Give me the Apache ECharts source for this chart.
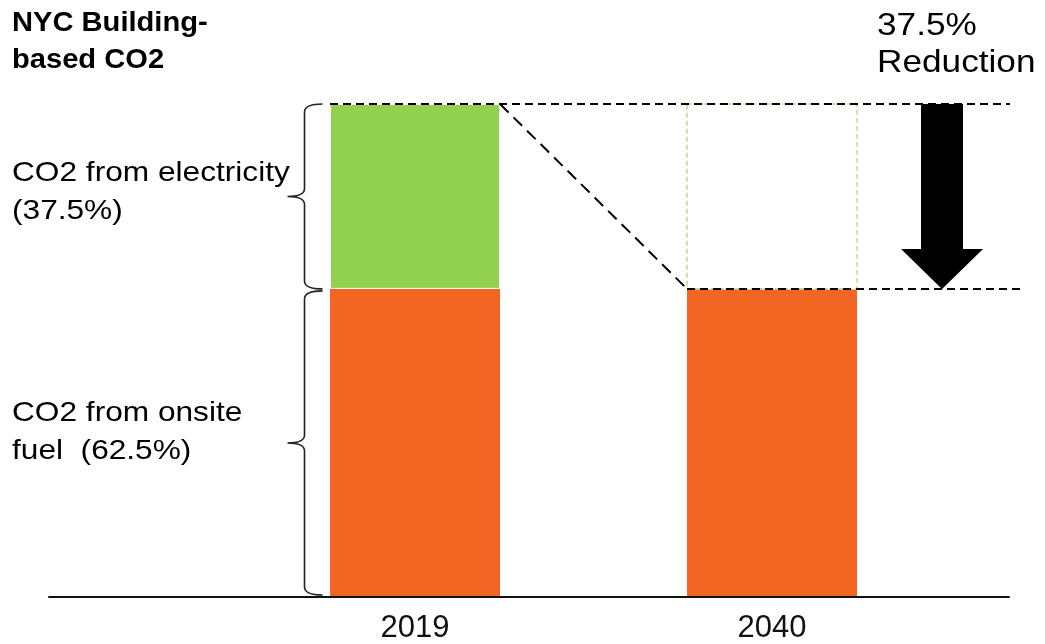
<!DOCTYPE html>
<html><head><meta charset="utf-8">
<script src="https://cdn.jsdelivr.net/npm/echarts@6/dist/echarts.min.js"></script>
<style>html,body{margin:0;padding:0;background:#fff}#c{width:1045px;height:644px}</style>
</head><body><div id="c"></div>
<script>
// ---- data ----
const years = ['2019', '2040'];
const onsiteFuel = [62.5, 62.5];     // CO2 from onsite fuel
const electricity = [37.5, 0];       // CO2 from electricity
const titleLines = ['NYC Building-', 'based CO2'];
const elecLabel = ['CO2 from electricity', '(37.5%)'];
const fuelLabel = ['CO2 from onsite', 'fuel  (62.5%)'];
const reductionLabel = ['37.5%', 'Reduction'];
const arrowYear = 2050;
const braceYear = 2012.5;
const lineEndYears = [2054, 2054.8];

const FONT = '"Liberation Sans", Arial, Helvetica, sans-serif';
const GREEN = '#92D050', ORANGE = '#F26522';
const BAR_W = 170;

const chart = echarts.init(document.getElementById('c'), null, {renderer: 'canvas'});

function bracePath(xs, yt, yb, tip, hook, r) {
  const ym = (yt + yb) / 2;
  return 'M' + (xs + hook) + ' ' + yt +
    ' Q' + xs + ' ' + yt + ' ' + xs + ' ' + (yt + r) +
    ' L' + xs + ' ' + (ym - r) +
    ' Q' + xs + ' ' + ym + ' ' + (xs - tip) + ' ' + ym +
    ' Q' + xs + ' ' + ym + ' ' + xs + ' ' + (ym + r) +
    ' L' + xs + ' ' + (yb - r) +
    ' Q' + xs + ' ' + yb + ' ' + (xs + hook) + ' ' + yb;
}

function renderItem(params, api) {
  const x0 = Number(years[0]), x1 = Number(years[1]);
  const top0 = onsiteFuel[0] + electricity[0];
  const top1 = onsiteFuel[1] + electricity[1];
  const c0 = api.coord([x0, top0]);
  const c1 = api.coord([x1, top1]);
  const cG = api.coord([x1, top0]);
  const yTop = c0[1], yMid = c1[1];
  const split0 = api.coord([x0, onsiteFuel[0]])[1];
  const base = api.coord([x0, 0])[1];
  const l0 = c0[0] - BAR_W / 2, r0 = c0[0] + BAR_W / 2;
  const l1 = c1[0] - BAR_W / 2;
  const endTop = api.coord([lineEndYears[0], top0])[0];
  const endMid = api.coord([lineEndYears[1], top1])[0];
  const a = api.coord([arrowYear, top0]);
  const aTip = api.coord([arrowYear, top1]);
  const bx = api.coord([braceYear, 0])[0];
  const dash = {stroke: '#000', lineWidth: 2, lineDash: [8, 5], fill: null};
  const children = [
    {type: 'rect', shape: {x: l1, y: cG[1], width: BAR_W, height: yMid - cG[1]},
     style: {fill: null, stroke: GREEN, lineWidth: 1, lineDash: [5, 3]}},
    {type: 'line', shape: {x1: l0, y1: yTop, x2: endTop, y2: yTop}, style: dash},
    {type: 'line', shape: {x1: l1, y1: yMid, x2: endMid, y2: yMid}, style: dash},
    {type: 'line', shape: {x1: r0, y1: yTop, x2: l1, y2: yMid},
     style: {stroke: '#000', lineWidth: 2, lineDash: [12, 7], fill: null}},
    {type: 'polygon', shape: {points: [
      [a[0] - 21, yTop], [a[0] + 21, yTop], [a[0] + 21, aTip[1] - 40],
      [a[0] + 41, aTip[1] - 40], [a[0], aTip[1]], [a[0] - 41, aTip[1] - 40],
      [a[0] - 21, aTip[1] - 40]]}, style: {fill: '#000'}},
    {type: 'path', shape: {pathData: bracePath(bx, yTop, split0, 17, 18, 8)},
     style: {stroke: '#222', lineWidth: 1.6, fill: null}},
    {type: 'path', shape: {pathData: bracePath(bx, split0 + 2, base - 2, 17, 18, 8)},
     style: {stroke: '#222', lineWidth: 1.6, fill: null}}
  ];
  return {type: 'group', children: children};
}

function textEl(lines, x, y, size, lh, sx, weight) {
  return {type: 'text', x: x, y: y, scaleX: sx, z: 10,
    style: {text: lines.join('\n'), fill: '#000', font: (weight || 'normal') + ' ' + size + 'px ' + FONT,
      lineHeight: lh, verticalAlign: 'top', align: 'left'}};
}

const option = {
  animation: false,
  backgroundColor: '#fff',
  grid: {left: 49, right: 36, top: 104, bottom: 46, containLabel: false},
  xAxis: {
    type: 'value', min: 1997.47, max: 2053.94, z: 10,
    axisLine: {show: true, onZero: false, lineStyle: {color: '#111', width: 2}},
    axisTick: {show: false}, splitLine: {show: false},
    axisLabel: {customValues: years.map(Number), formatter: v => String(v),
      color: '#111', fontSize: 31, lineHeight: 31, fontFamily: FONT, margin: 16}
  },
  yAxis: {type: 'value', min: 0, max: 100, show: false, splitLine: {show: false}},
  series: [
    // value column first so that stacking happens on the y dimension
    {type: 'bar', name: 'CO2 from onsite fuel', stack: 't', barWidth: BAR_W,
     encode: {x: 1, y: 0},
     data: years.map((y, i) => [onsiteFuel[i], Number(y)]),
     itemStyle: {color: ORANGE}},
    {type: 'bar', name: 'CO2 from electricity', stack: 't', barWidth: BAR_W,
     encode: {x: 1, y: 0},
     data: years.map((y, i) => [electricity[i], Number(y)]),
     itemStyle: {color: GREEN, borderColor: '#fff', borderWidth: 1}},
    {type: 'custom', renderItem: renderItem, data: [[Number(years[0]), 0]], z: 5, silent: true}
  ],
  graphic: [
    textEl(titleLines, 12, 4.7, 28, 37, 1.04, 'bold'),
    textEl(elecLabel, 12, 154, 28, 38, 1.13),
    textEl(fuelLabel, 12, 394, 28, 38, 1.13),
    textEl(reductionLabel, 877, 7.5, 32, 37, 1.1)
  ]
};
chart.setOption(option);
</script>
</body></html>
